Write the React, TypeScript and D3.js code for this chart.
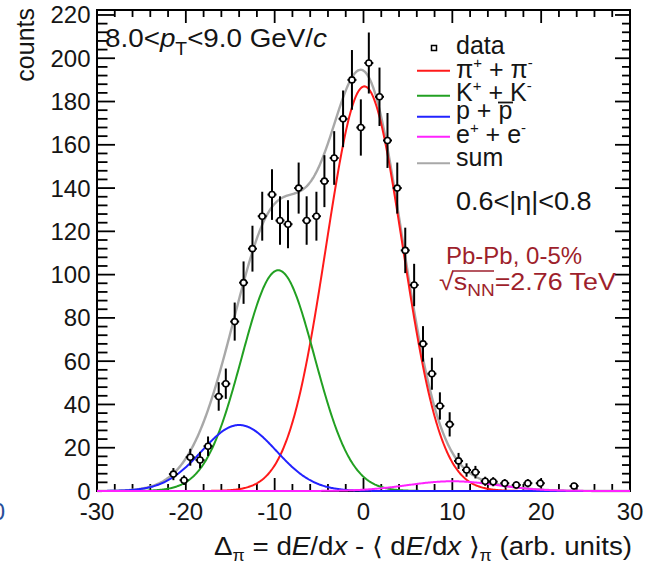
import React from "react";
import * as d3 from "d3";

// ---------- data ----------
const dataX = [-21.4, -20.2, -19.5, -18.4, -17.5, -16.3, -15.5, -14.5, -13.5, -12.5, -11.4, -10.3, -9.4, -8.5, -7.3, -6.4, -5.3, -4.4, -3.3, -2.3, -1.3, -0.3, 0.6, 1.8, 2.7, 3.8, 4.7, 5.7, 6.7, 7.7, 8.6, 9.7, 10.7, 11.6, 12.6, 13.7, 14.6, 15.9, 17.2, 18.5, 19.9, 23.7];
const dataY = [7.8, 5, 15.6, 14.3, 20.7, 43.7, 49.6, 78.3, 96.3, 112, 127, 137, 125, 123.3, 140, 125, 127, 143.2, 153.9, 172, 190, 168, 197.8, 182.2, 162, 140, 111.2, 95.2, 68, 54.2, 39.3, 30.8, 13.9, 9.7, 8.7, 4.5, 4.3, 3.6, 2.8, 3.6, 3.6, 2.3];
const dataErr = [2.8, 2.2, 3.9, 3.8, 4.5, 6.6, 7, 8.8, 9.8, 10.6, 11.3, 11.7, 11.2, 11.1, 11.8, 11.2, 11.3, 12, 12.4, 13.1, 13.8, 13, 14.1, 13.5, 12.7, 11.8, 10.5, 9.8, 8.2, 7.4, 6.3, 5.6, 3.7, 3.1, 2.9, 2.1, 2.1, 1.9, 1.7, 1.9, 1.9, 1.5];

// Gaussian fit components: pion, kaon, proton, electron
const fitLabels = ["pi", "K", "p", "e"];
const fitAmp = [187, 102, 30.5, 4.5];
const fitMean = [0.1, -9.6, -14.0, 10.0];
const fitSigma = [4.3, 4.1, 4.2, 5.0];
const fitColors = ["#ff1a1a", "#22a022", "#2222ff", "#ff22ff"];
const sumColor = "#a8a8a8";

const xMajor = [-30, -20, -10, 0, 10, 20, 30];
const yMajor = [0, 20, 40, 60, 80, 100, 120, 140, 160, 180, 200, 220];

// ---------- layout ----------
const W = 650, H = 568;
const L = 97, R = 630, T = 10, B = 491;
const FONT = "'Liberation Sans', Arial, Helvetica, sans-serif";
const TXT = "#151515";
const RED_TXT = "#9e1f2c";

export default function App() {
  const x = d3.scaleLinear().domain([-30, 30]).range([L, R]);
  const y = d3.scaleLinear().domain([0, 222.3]).range([B, T]);

  const gauss = (i: number, v: number) =>
    fitAmp[i] * Math.exp(-((v - fitMean[i]) ** 2) / (2 * fitSigma[i] ** 2));
  const xs = d3.range(-30, 30.001, 0.1);
  const line = d3
    .line<[number, number]>()
    .x((d) => x(d[0]))
    .y((d) => y(d[1]));
  const compPaths = fitLabels.map((_, i) => line(xs.map((v) => [v, gauss(i, v)] as [number, number])));
  const sumPath = line(
    xs.map((v) => [v, fitLabels.reduce((s, _, i) => s + gauss(i, v), 0)] as [number, number])
  );

  const xMinor = d3.range(-30, 30.001, 2).filter((v) => !xMajor.includes(Math.round(v)));
  const yMinor = d3.range(0, 222.3, 4).filter((v) => v % 20 !== 0);

  const legendRows = [
    { y: 70.7, color: fitColors[0] },
    { y: 95.7, color: fitColors[1] },
    { y: 116.7, color: fitColors[2] },
    { y: 136.7, color: fitColors[3] },
    { y: 163.3, color: sumColor },
  ];

  return (
    <svg
      width={W}
      height={H}
      style={{ position: "absolute", left: 0, top: 0, background: "#fff" }}
      fontFamily={FONT}
    >
      <rect x={0} y={0} width={W} height={H} fill="#fff" />
      {/* stray cut-off glyph at left edge */}
      <text x={5} y={520} fontSize={24} textAnchor="end" fill="#2a4f9a">0</text>

      {/* frame */}
      <rect x={L} y={T} width={R - L} height={B - T} fill="none" stroke="#000" strokeWidth={2} />
      {/* x ticks */}
      {xMajor.map((v) => (
        <g key={"xM" + v}>
          <line x1={x(v)} x2={x(v)} y1={B} y2={B - 13} stroke="#000" strokeWidth={1.8} />
          <line x1={x(v)} x2={x(v)} y1={T} y2={T + 13} stroke="#000" strokeWidth={1.8} />
          <text x={x(v)} y={520} fontSize={24} textAnchor="middle" fill={TXT}>{v}</text>
        </g>
      ))}
      {xMinor.map((v) => (
        <g key={"xm" + v}>
          <line x1={x(v)} x2={x(v)} y1={B} y2={B - 7} stroke="#000" strokeWidth={1.8} />
          <line x1={x(v)} x2={x(v)} y1={T} y2={T + 7} stroke="#000" strokeWidth={1.8} />
        </g>
      ))}
      {/* y ticks */}
      {yMajor.map((v) => (
        <g key={"yM" + v}>
          <line x1={L} x2={L + 18} y1={y(v)} y2={y(v)} stroke="#000" strokeWidth={1.8} />
          <line x1={R} x2={R - 15} y1={y(v)} y2={y(v)} stroke="#000" strokeWidth={1.8} />
          <text x={90.5} y={y(v) + 8.5} fontSize={24} textAnchor="end" fill={TXT}>{v}</text>
        </g>
      ))}
      {yMinor.map((v) => (
        <g key={"ym" + v}>
          <line x1={L} x2={L + 10.5} y1={y(v)} y2={y(v)} stroke="#000" strokeWidth={1.8} />
          <line x1={R} x2={R - 8} y1={y(v)} y2={y(v)} stroke="#000" strokeWidth={1.8} />
        </g>
      ))}

      {/* curves */}
      <path d={sumPath || ""} fill="none" stroke={sumColor} strokeWidth={2.4} />
      {compPaths.map((p, i) => (
        <path key={i} d={p || ""} fill="none" stroke={fitColors[i]} strokeWidth={2} />
      ))}

      {/* data */}
      {dataX.map((dx, i) => {
        const cx = x(dx), cy = y(dataY[i]);
        return (
          <g key={i}>
            <line x1={cx} x2={cx} y1={y(dataY[i] + dataErr[i])} y2={Math.min(B, y(dataY[i] - dataErr[i]))} stroke="#000" strokeWidth={2} />
            <line x1={cx - 4.5} x2={cx + 4.5} y1={cy} y2={cy} stroke="#000" strokeWidth={2} />
            <circle cx={cx} cy={cy} r={3} fill="#fff" stroke="#000" strokeWidth={1.6} />
          </g>
        );
      })}

      {/* axis titles */}
      <text transform="translate(34,8) rotate(-90)" fontSize={25} textAnchor="end" fill={TXT}>counts</text>
      <text transform="translate(632,555) scale(1.11,1)" x={0} y={0} fontSize={25} textAnchor="end" fill={TXT}>
        Δ<tspan fontSize={16} dy={6}>π</tspan>
        <tspan dy={-6}> = d</tspan>
        <tspan fontStyle="italic">E</tspan>/d<tspan fontStyle="italic">x</tspan> - ⟨ d
        <tspan fontStyle="italic">E</tspan>/d<tspan fontStyle="italic">x</tspan> ⟩
        <tspan fontSize={16} dy={6}>π</tspan>
        <tspan dy={-6}> (arb. units)</tspan>
      </text>

      {/* pT label */}
      <text transform="translate(105,46.5) scale(1.07,1)" fontSize={26} fill={TXT}>
        8.0&lt;<tspan fontStyle="italic">p</tspan>
        <tspan fontSize={18} dy={8}>T</tspan>
        <tspan dy={-8}>&lt;9.0 GeV/</tspan>
        <tspan fontStyle="italic">c</tspan>
      </text>

      {/* legend */}
      <rect x={431.5} y={45.5} width={5} height={5} fill="#fff" stroke="#000" strokeWidth={1.5} />
      {legendRows.map((r, i) => (
        <line key={i} x1={417} x2={450} y1={r.y} y2={r.y} stroke={r.color} strokeWidth={2} />
      ))}
      <g fontSize={25} fill={TXT}>
        <text x={456} y={53.5}>data</text>
        <text x={456} y={77.5}>
          π<tspan fontSize={15} dy={-10}>+</tspan>
          <tspan dy={10}> + π</tspan>
          <tspan fontSize={15} dy={-10}>-</tspan>
        </text>
        <text x={456} y={100.5}>
          K<tspan fontSize={15} dy={-10}>+</tspan>
          <tspan dy={10}> + K</tspan>
          <tspan fontSize={15} dy={-10}>-</tspan>
        </text>
        <text x={456} y={119}>p + p</text>
        <text x={456} y={142.5}>
          e<tspan fontSize={15} dy={-10}>+</tspan>
          <tspan dy={10}> + e</tspan>
          <tspan fontSize={15} dy={-10}>-</tspan>
        </text>
        <text x={456} y={165.5}>sum</text>
        <text transform="translate(456,210) scale(1.08,1)">0.6&lt;|η|&lt;0.8</text>
      </g>
      <line x1={498} x2={513} y1={102.5} y2={102.5} stroke={TXT} strokeWidth={1.8} />
      <g fontSize={24} fill={RED_TXT}>
        <text x={446} y={263.5}>Pb-Pb, 0-5%</text>
        <text transform="translate(439,289.5) scale(1.12,1)">
          √<tspan>s</tspan>
          <tspan fontSize={17} dy={6}>NN</tspan>
          <tspan dy={-6}>=2.76 TeV</tspan>
        </text>
      </g>
      <line x1={452} x2={494} y1={271} y2={271} stroke={RED_TXT} strokeWidth={1.5} />
    </svg>
  );
}
